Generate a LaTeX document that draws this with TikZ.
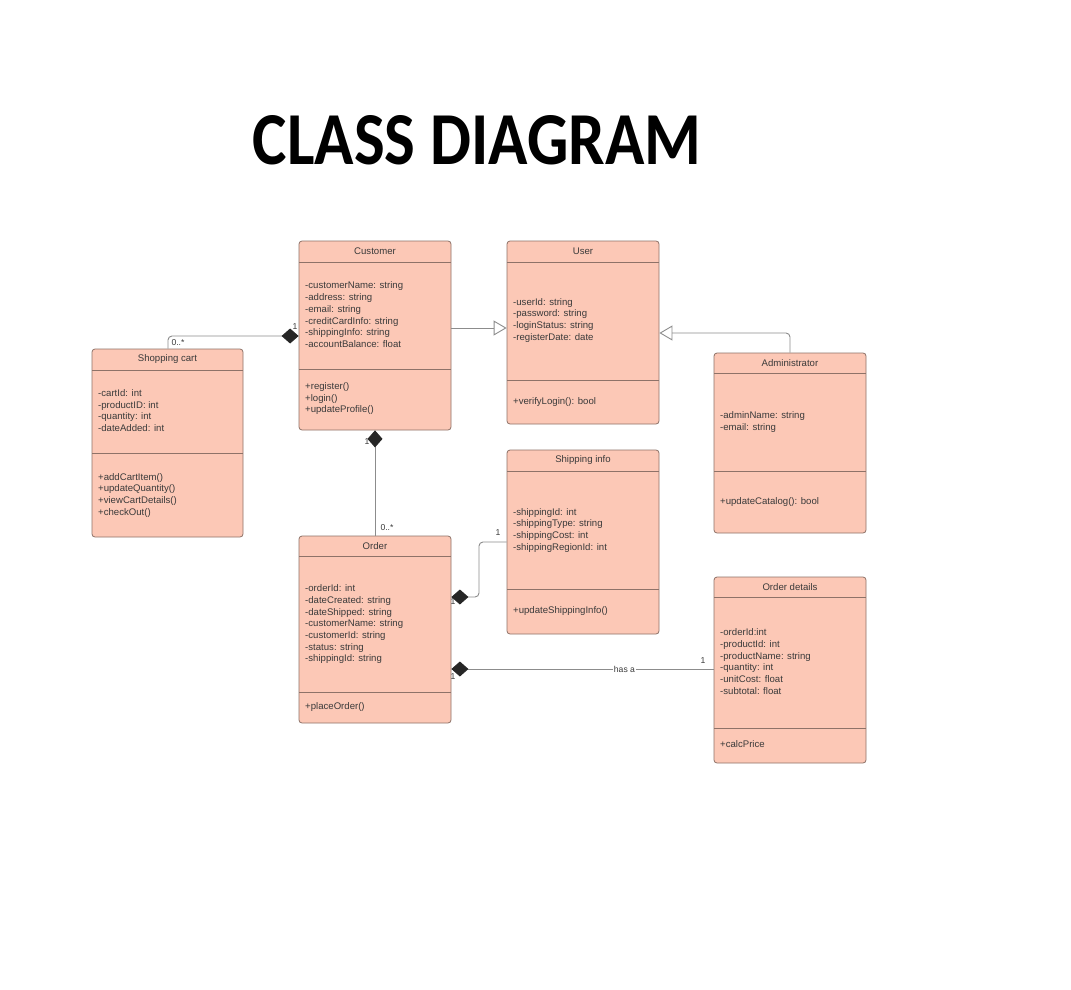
\documentclass[tikz,border=0pt]{standalone}
\usepackage{fontspec}
\setmainfont{Liberation Sans}
\newfontfamily\titlefont{Carlito}
\usetikzlibrary{arrows.meta}
\definecolor{boxfill}{HTML}{FCC8B6}
\definecolor{boxline}{HTML}{8E7268}
\definecolor{conncol}{HTML}{8C8C8C}
\definecolor{txtcol}{HTML}{3A3A3A}
\tikzset{
  cls/.style={draw=boxline, fill=boxfill, line width=0.8pt, rounded corners=3pt, inner sep=0pt},
  divline/.style={draw=boxline, line width=0.8pt},
  ttl/.style={font=\fontsize{9.6}{11}\selectfont, text=txtcol, inner sep=0pt},
  txt/.style={font=\fontsize{9.6}{11}\selectfont, text=txtcol, inner sep=0pt},
  lbl/.style={font=\fontsize{8.6}{10}\selectfont, text=txtcol, inner sep=0pt},
  conn/.style={draw=conncol, line width=0.9pt},
  comp/.style={-{Diamond[length=17pt,width=15pt,fill=black!85,color=black!85]}},
  gen/.style={-{Triangle[open,length=13pt,width=15pt,fill=white]}},
}
\newcommand\umlbox[8]{%
  \node[cls, minimum width={(#4-#2)*1pt}, minimum height={(#5-#3)*1pt}] (#1) at ({(#2+#4)/2},{(#3+#5)/2}) {};
  \draw[divline] (#2,#6) -- (#4,#6) (#2,#7) -- (#4,#7);
  \node[ttl] (#1-title) at ({(#2+#4)/2},{(#3+#6)/2}) {#8};
}
\newcommand\umllines[5]{%
  \foreach \txtline [count=\i from 0] in {#5} {
    \node[txt, anchor=base west] (#1-#2\i) at ({#3+6},{#4+\i*11.7+3.4}) {\txtline};
  }
}
\begin{document}
\begin{tikzpicture}[x=1pt,y=-1pt]
\path[use as bounding box, fill=white] (0,0) rectangle (1071,990);

\node[font=\titlefont\bfseries\fontsize{65}{70}\selectfont, text=black, inner sep=0pt] (title) at (477,140) {\scalebox{1}[1.15]{CLASS DIAGRAM}};

% Customer
\umlbox{cust}{299}{241}{451}{430}{262}{369}{Customer}
\umllines{cust}{a}{299}{285.5}{-customerName: string,-address: string,-email: string,-creditCardInfo: string,-shippingInfo: string,-accountBalance: float}
\umllines{cust}{m}{299}{386}{+register(),+login(),+updateProfile()}

% User
\umlbox{user}{507}{241}{659}{424}{262}{380}{User}
\umllines{user}{a}{507}{301.7}{-userId: string,-password: string,-loginStatus: string,-registerDate: date}
\umllines{user}{m}{507}{401.5}{+verifyLogin(): bool}

% Shopping cart
\umlbox{cart}{92}{349}{243}{537}{370}{453}{Shopping cart}
\umllines{cart}{a}{92}{393}{-cartId: int,-productID: int,-quantity: int,-dateAdded: int}
\umllines{cart}{m}{92}{476.7}{+addCartItem(),+updateQuantity(),+viewCartDetails(),+checkOut()}

% Administrator
\umlbox{admin}{714}{353}{866}{533}{373}{471}{Administrator}
\umllines{admin}{a}{714}{415}{-adminName: string,-email: string}
\umllines{admin}{m}{714}{501}{+updateCatalog(): bool}

% Order
\umlbox{order}{299}{536}{451}{723}{556}{692}{Order}
\umllines{order}{a}{299}{588.3}{-orderId: int,-dateCreated: string,-dateShipped: string,-customerName: string,-customerId: string,-status: string,-shippingId: string}
\umllines{order}{m}{299}{706.5}{+placeOrder()}

% Shipping info
\umlbox{ship}{507}{450}{659}{634}{471}{589}{Shipping info}
\umllines{ship}{a}{507}{511.7}{-shippingId: int,-shippingType: string,-shippingCost: int,-shippingRegionId: int}
\umllines{ship}{m}{507}{610.5}{+updateShippingInfo()}

% Order details
\umlbox{det}{714}{577}{866}{763}{597}{728}{Order details}
\umllines{det}{a}{714}{632.3}{-orderId:int,-productId: int,-productName: string,-quantity: int,-unitCost: float,-subtotal: float}
\umllines{det}{m}{714}{744}{+calcPrice}

% connector helper coordinates
\coordinate (k1) at (168,336);
\coordinate (k2) at (0,328);
\coordinate (k3) at (790,333);
\coordinate (k5) at (479,597);
\coordinate (k6) at (0,542);
\coordinate (k7) at (0,669);

% Shopping cart -- Customer (composition)
\draw[conn, comp, rounded corners=4pt] (cart.north -| k1) |- (cust.west |- k1);
\node[lbl] (l1) at (178,343) {0..*};
\node[lbl] (l2) at (295,327) {1};

% Customer -> User (generalization)
\draw[conn, gen] (cust.east |- k2) -- (user.west |- k2);

% Administrator -> User (generalization)
\draw[conn, gen, rounded corners=4pt] (admin.north -| k3) |- (user.east |- k3);

% Order -- Customer (composition)
\draw[conn, comp] (order.north) -- (cust.south);
\node[lbl] (l3) at (367,442) {1};
\node[lbl] (l4) at (387,528) {0..*};

% Shipping info -- Order (composition)
\draw[conn, comp, rounded corners=4pt] (ship.west |- k6) -| (k5) -- (order.east |- k5);
\node[lbl] (l5) at (498,533) {1};
\node[lbl] (l6) at (453,602) {1};

% Order details -- Order (composition, has a)
\draw[conn, comp] (det.west |- k7) -- node[lbl, fill=white, inner xsep=1pt, inner ysep=1pt, pos=0.34] (hasa) {has a} (order.east |- k7);
\node[lbl] (l7) at (703,661) {1};
\node[lbl] (l8) at (453,677) {1};
\end{tikzpicture}
\end{document}
